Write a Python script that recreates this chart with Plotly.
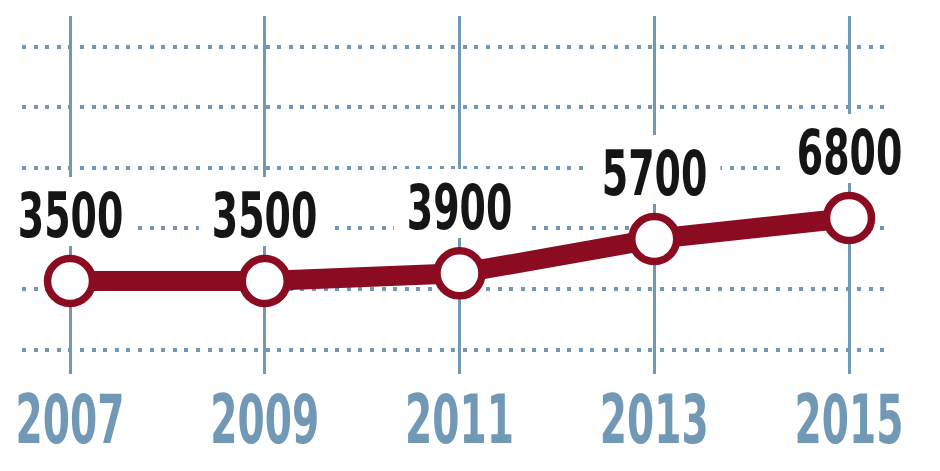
import plotly.graph_objects as go

years = [2007, 2009, 2011, 2013, 2015]
values = [3500, 3500, 3900, 5700, 6800]
labels = ["3500", "3500", "3900", "5700", "6800"]

RED = "#8b0b20"
BLUE = "#7199b6"
FONT = "DejaVu Sans Condensed, DejaVu Sans, sans-serif"

fig = go.Figure()
fig.add_trace(go.Scatter(
    x=years, y=values, mode="lines+markers",
    line=dict(color=RED, width=20),
    marker=dict(size=45, color="white", line=dict(color=RED, width=7.5)),
    hoverinfo="skip", showlegend=False,
))

for x, y, t in zip(years, values, labels):
    fig.add_annotation(
        x=x, y=y, text=t, showarrow=False, yshift=66,
        font=dict(family=FONT, size=62, color="#151515", weight="bold"),
        bgcolor="white", borderpad=6,
    )

# pixel-scale helpers for axis layout
k = 3300 / 63.0
y_bottom = 3500 - 93 * k
y_top = 6800 + 202 * k

fig.update_layout(
    width=940, height=471,
    margin=dict(l=22, r=52, t=16, b=97),
    paper_bgcolor="white", plot_bgcolor="white",
    hovermode=False,
    xaxis=dict(
        range=[2006.507, 2015.4005], tickmode="linear", tick0=2007, dtick=2,
        showgrid=True, gridcolor=BLUE, gridwidth=3, zeroline=False, showline=False,
        ticks="", tickfont=dict(family=FONT, size=68, color=BLUE, weight="bold"),
        ticklabelstandoff=0, ticklabeloverflow="allow", automargin=False,
        fixedrange=True,
    ),
    yaxis=dict(
        range=[y_bottom, y_top], tickmode="linear", tick0=3500 - 8 * k, dtick=60.6 * k,
        showgrid=True, gridcolor=BLUE, gridwidth=4, griddash="4px,7.6px",
        zeroline=False, showline=False, showticklabels=False, automargin=False,
        fixedrange=True,
    ),
)

post = """
(function(){
  document.body.style.margin = '0';
  document.body.style.padding = '0';
  var gd = document.getElementById('{plot_id}');
  function squeeze(){
    gd.querySelectorAll('g.annotation-text-g').forEach(function(g){
      var t = g.querySelector('text.annotation-text');
      var r = g.querySelector('rect.bg');
      if (!t || t.getAttribute('data-sq')) return;
      var w = t.getComputedTextLength();
      t.setAttribute('textLength', w * 0.68);
      t.setAttribute('lengthAdjust', 'spacingAndGlyphs');
      t.setAttribute('data-sq', '1');
      if (r) {
        var bb = t.getBBox();
        r.setAttribute('x', bb.x - 13);
        r.setAttribute('width', bb.width + 26);
        r.setAttribute('y', bb.y - 2);
        r.setAttribute('height', bb.height - 4);
      }
    });
    gd.querySelectorAll('g.xtick text').forEach(function(t){
      if (t.getAttribute('data-sq')) return;
      var w = t.getComputedTextLength();
      t.setAttribute('textLength', w * 0.64);
      t.setAttribute('lengthAdjust', 'spacingAndGlyphs');
      t.setAttribute('data-sq', '1');
    });
  }
  squeeze();
  if (gd.on) gd.on('plotly_afterplot', squeeze);
})();
"""

fig.write_html("out.html", post_script=post, config={"displayModeBar": False, "staticPlot": False})
